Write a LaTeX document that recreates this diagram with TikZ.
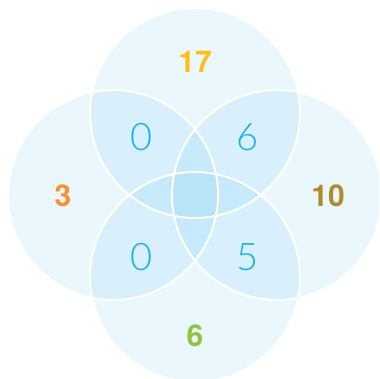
\documentclass[tikz,border=0pt]{standalone}
\usepackage{fontspec}
\setmainfont{TeX Gyre Heros}
\newfontfamily\thindigits{Lato Light}
\definecolor{vennblue}{RGB}{25,170,230}
\definecolor{innertxt}{RGB}{30,174,240}
\definecolor{ctop}{RGB}{255,190,18}
\definecolor{cleft}{RGB}{247,146,46}
\definecolor{cright}{RGB}{176,138,46}
\definecolor{cbottom}{RGB}{140,198,63}
\tikzset{
  setfill/.style={fill=vennblue, fill opacity=0.09, draw=none},
  setline/.style={draw=white, line width=2pt},
  outernum/.style={font=\fontsize{30}{30}\selectfont\bfseries, inner sep=0pt},
  innernum/.style={font=\thindigits\fontsize{38}{38}\selectfont, text=innertxt, inner sep=0pt}
}
\begin{document}
\begin{tikzpicture}[x=1pt,y=-1pt]
\useasboundingbox (0,0) rectangle (379,379);
\clip (0,0) rectangle (379,379);
\coordinate (ct) at (195,113);
\coordinate (cl) at (113,195);
\coordinate (cr) at (277,195);
\coordinate (cb) at (195,277);
\foreach \c in {ct,cl,cr,cb} {
  \path[setfill] (\c) circle[radius=105];
}
\foreach \c in {ct,cl,cr,cb} {
  \draw[setline] (\c) circle[radius=105];
}
\node[outernum, text=ctop] (ntop) at (195,61.5) {17};
\node[outernum, text=cleft] (nleft) at (63,195.5) {3};
\node[outernum, text=cright] (nright) at (328,195.5) {10};
\node[outernum, text=cbottom] (nbottom) at (195,336) {6};
\node[innernum] (ntl) at (142,137.5) {0};
\node[innernum] (ntr) at (248,137.5) {6};
\node[innernum] (nbl) at (142,257.5) {0};
\node[innernum] (nbr) at (248,257.5) {5};
\end{tikzpicture}
\end{document}
